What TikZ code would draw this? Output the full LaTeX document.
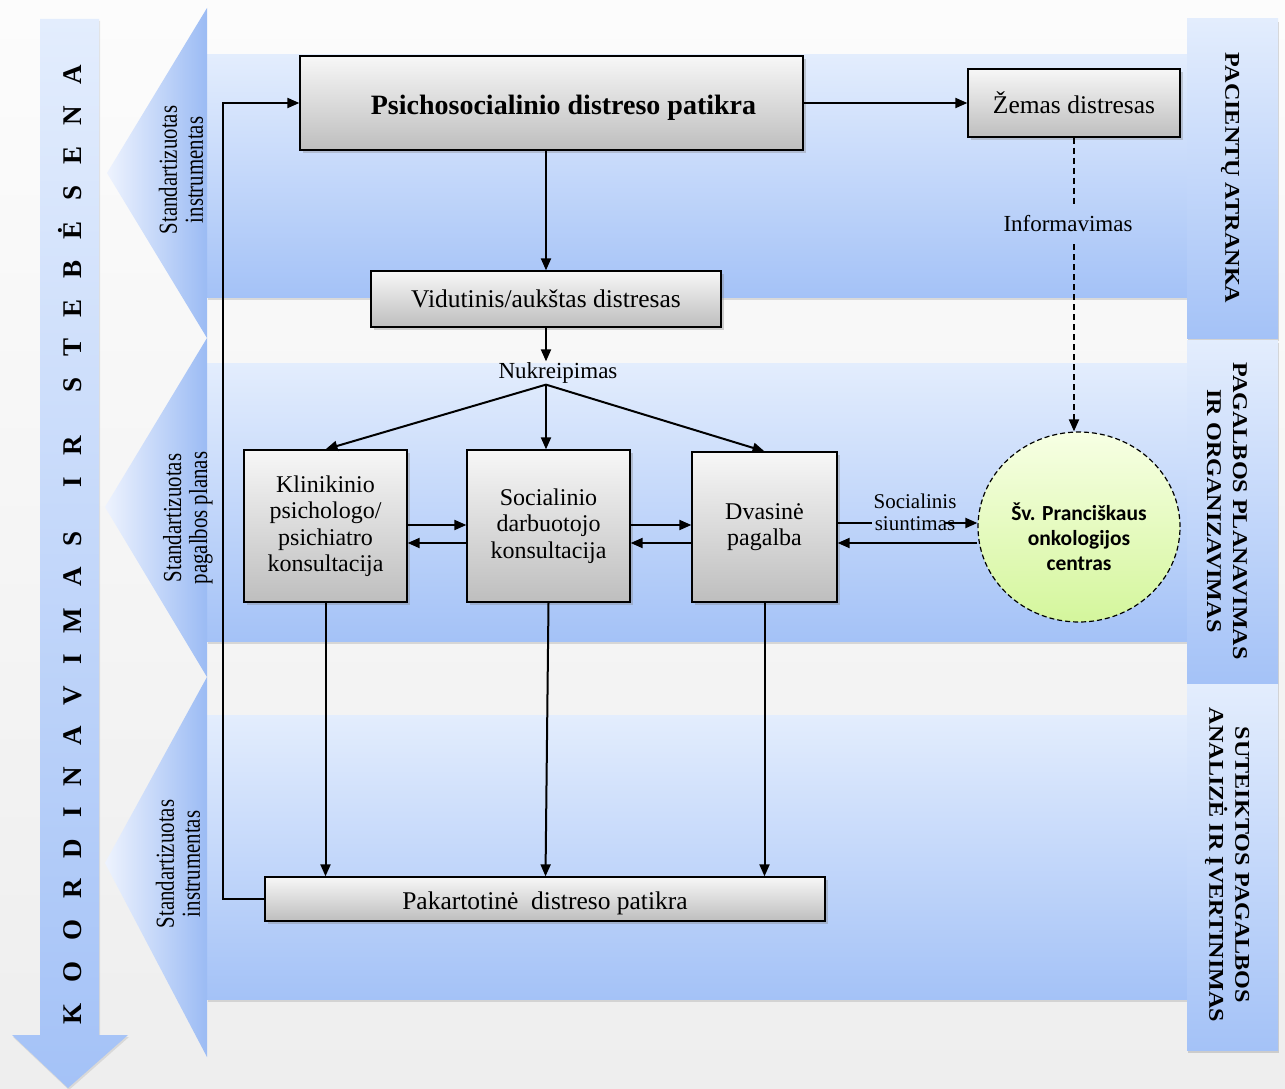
\documentclass[tikz,border=0pt]{standalone}
\usepackage{fontspec}
\setmainfont{Liberation Serif}
\newfontfamily\condfont[FakeStretch=0.8]{Liberation Serif}
\newfontfamily\widefont[FakeStretch=1.15]{Liberation Serif}
\newfontfamily\calfont{Carlito}
\usetikzlibrary{arrows.meta,shadows,shapes.geometric,calc}

\definecolor{bgtop}{RGB}{252,252,252}
\definecolor{bgbot}{RGB}{238,238,238}
\definecolor{bandtop}{RGB}{227,237,253}
\definecolor{bandbot}{RGB}{164,194,247}
\definecolor{tridark}{RGB}{155,187,244}
\definecolor{trilight}{RGB}{238,243,254}
\definecolor{boxtop}{RGB}{247,247,247}
\definecolor{boxbot}{RGB}{190,190,190}
\definecolor{circtop}{RGB}{247,255,228}
\definecolor{circbot}{RGB}{212,246,156}

\newcommand{\lk}{\hspace{21pt}}
\newcommand{\wk}{\hspace{44pt}}

\begin{document}
\begin{tikzpicture}[x=1pt,y=-1pt,
  band/.style={top color=bandtop,bottom color=bandbot,draw=none,
    drop shadow={shadow xshift=1pt,shadow yshift=-3pt,opacity=0.25}},
  panel/.style={top color=bandtop,bottom color=bandbot,draw=none,
    drop shadow={shadow xshift=1pt,shadow yshift=-3pt,opacity=0.3}},
  tri/.style={left color=trilight,right color=tridark,draw=none},
  gbox/.style={draw=black,line width=1.3pt,top color=boxtop,bottom color=boxbot,
    drop shadow={shadow xshift=3pt,shadow yshift=-3pt,opacity=0.35},
    inner sep=0pt,align=center},
  bigtxt/.style={font=\fontsize{25.5}{30}\selectfont},
  boxtxt/.style={font=\fontsize{24}{26.5}\selectfont},
  lbl/.style={inner sep=1pt,font=\fontsize{23}{26}\selectfont},
  conn/.style={line width=2pt,-{Triangle[length=12pt,width=10pt]}},
  plain/.style={line width=2pt},
  dashconn/.style={line width=1.9pt,dash pattern=on 6pt off 4pt,-{Triangle[length=12pt,width=10pt]}},
  dashplain/.style={line width=1.5pt,dash pattern=on 6pt off 4pt},
  tritxt/.style={rotate=90,align=center,font=\condfont\fontsize{26}{26}\selectfont},
  paneltxt/.style={rotate=-90,align=center,font=\widefont\bfseries\fontsize{21}{26}\selectfont}
]
\useasboundingbox (0,0) rectangle (1285,1089);
% background
\fill[top color=bgtop,bottom color=bgbot] (0,0) rectangle (1285,1089);

% bands
\path[band] (207,55) rectangle (1187,297);
\path[band] (207,363) rectangle (1187,641);
\path[band] (207,715) rectangle (1187,999);

% triangles
\path[tri] (207,8) -- (107,173) -- (207,338) -- cycle;
\path[tri] (207,338) -- (105,507) -- (207,677) -- cycle;
\path[tri] (207,677) -- (105,863) -- (207,1057) -- cycle;
\node[tritxt] (t1) at (181,170) {Standartizuotas\\instrumentas};
\node[tritxt] (t2) at (188,518) {Standartizuotas\\pagalbos planas};
\node[tritxt] (t3) at (178,864) {Standartizuotas\\instrumentas};

% left arrow
\path[top color=bandtop,bottom color=bandbot,draw=none,
  drop shadow={shadow xshift=1pt,shadow yshift=-2pt,opacity=0.2}]
  (40,19) -- (99,19) -- (99,1035) -- (128,1035) -- (68,1088) -- (12,1035) -- (40,1035) -- cycle;
\node[rotate=90,font=\bfseries\fontsize{27}{30}\selectfont] (koord) at (70,545)
  {K\lk O\lk O\lk R\lk D\lk I\lk N\lk A\lk V\lk I\lk M\lk A\lk S\wk I\lk R\wk S\lk T\lk E\lk B\lk Ė\lk S\lk E\lk N\lk A};

% right panels
\path[panel] (1187,19) rectangle (1278,338);
\path[panel] (1187,340) rectangle (1278,684);
\path[panel] (1187,684) rectangle (1278,1050);
\node[paneltxt] (p1) at (1230,178) {PACIENTŲ ATRANKA};
\node[paneltxt] (p2) at (1227,511) {PAGALBOS PLANAVIMAS\\IR ORGANIZAVIMAS};
\node[paneltxt] (p3) at (1227,865) {SUTEIKTOS PAGALBOS\\ANALIZĖ IR ĮVERTINIMAS};

% boxes
\node[gbox,minimum width=503pt,minimum height=94pt,text height=29pt,text depth=6pt,
  font=\bfseries\fontsize{28}{32}\selectfont] (ps) at (551.5,103)
  {\hspace*{24pt}Psichosocialinio distreso patikra};
\node[gbox,bigtxt,minimum width=212pt,minimum height=68pt] (zm) at (1074,103) {Žemas distresas};
\node[gbox,bigtxt,minimum width=350pt,minimum height=56pt] (vid) at (546,299) {Vidutinis/aukštas distresas};
\node[gbox,boxtxt,minimum width=163pt,minimum height=152pt] (kl) at (325.5,526)
  {Klinikinio\\psichologo/\\psichiatro\\konsultacija};
\node[gbox,boxtxt,minimum width=163pt,minimum height=152pt] (so) at (548.5,526)
  {Socialinio\\darbuotojo\\konsultacija};
\node[gbox,boxtxt,minimum width=145pt,minimum height=150pt] (dv) at (764.5,527) {Dvasinė\\pagalba};
\node[gbox,bigtxt,minimum width=560pt,minimum height=44pt,text height=22pt,text depth=2pt] (pk) at (545,899) {Pakartotinė\ \ distreso patikra};
\node[ellipse,draw=black,line width=1.2pt,dash pattern=on 5pt off 3pt,
  top color=circtop,bottom color=circbot,minimum width=202pt,minimum height=190pt,
  inner sep=0pt] (ci) at (1079,527) {};
\node[align=center,inner sep=0pt,font=\calfont\bfseries\fontsize{21.5}{25}\selectfont] (citx) at (1079,537)
  {Šv. Pranciškaus\\onkologijos\\centras};

% labels
\node[lbl] (nk) at (558,373) {Nukreipimas};
\node[lbl,inner ysep=12pt] (inf) at (1068,224) {Informavimas};
\node[inner sep=1pt,align=center,font=\fontsize{21}{22}\selectfont] (siunt) at (915,512) {Socialinis\\siuntimas};

% connectors
\draw[conn] (ps.east) -- (zm.west);
\draw[conn] (vid.north |- ps.south) -- (vid.north);
\draw[conn] (vid.south) -- (vid.south |- nk.north);
\coordinate (fork) at (vid.south |- nk.south);
\draw[conn] (fork) -- (kl.north);
\draw[conn] (fork) -- (fork |- so.north);
\draw[conn] (fork) -- (dv.north);

\draw[conn] ([yshift=1pt]kl.east) -- ([yshift=1pt]so.west);
\draw[conn] ([yshift=-17pt]so.west) -- ([yshift=-17pt]kl.east);
\draw[conn] ([yshift=1pt]so.east) -- ([yshift=1pt]so.east -| dv.west);
\draw[conn] ([yshift=-16pt]dv.west) -- ([yshift=-16pt]dv.west -| so.east);

\coordinate (d1) at ([yshift=4pt]dv.east);
\coordinate (s1) at ([xshift=-14pt]siunt.east);
\draw[plain] (d1) -- (d1 -| siunt.west);
\draw[conn] (d1 -| s1) -- (d1 -| ci.west);
\draw[conn] ([yshift=-16pt]ci.west) -- ([yshift=-16pt]ci.west -| dv.east);

\draw[dashplain] (zm.south) -- (zm.south |- inf.north);
\draw[dashconn] (zm.south |- inf.south) -- (zm.south |- ci.north);

\draw[conn] (kl.south) -- (kl.south |- pk.north);
\draw[conn] (so.south) -- ([xshift=-3pt]so.south |- pk.north);
\draw[conn] (dv.south) -- (dv.south |- pk.north);

\draw[conn] (pk.west) -- ++(-41,0) |- (ps.west);
\end{tikzpicture}
\end{document}
